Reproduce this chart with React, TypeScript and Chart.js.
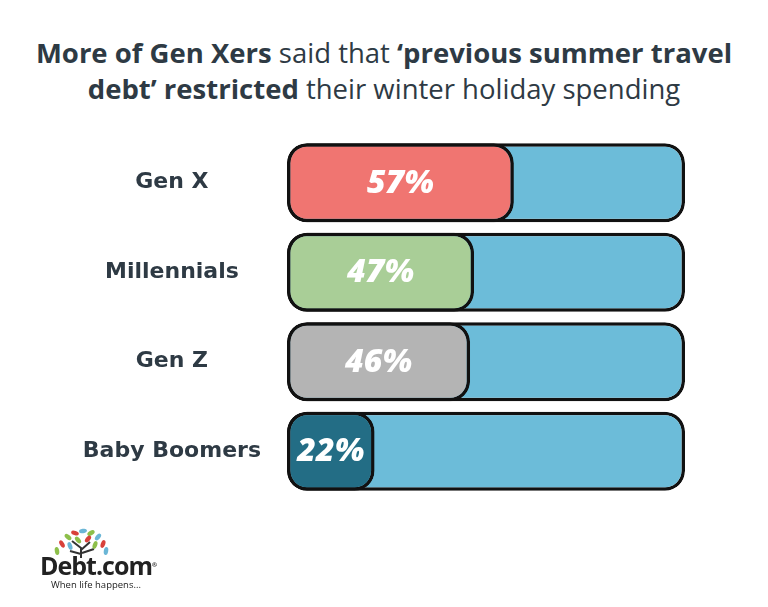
import React, { useEffect, useRef } from "react";
import { Chart, registerables } from "chart.js";

Chart.register(...registerables);

const categories = ["Gen X", "Millennials", "Gen Z", "Baby Boomers"];
const values = [57, 47, 46, 22];
const totals = [100, 100, 100, 100];
const valueLabels = ["57%", "47%", "46%", "22%"];
const barColors = ["#F07571", "#A9CE97", "#B4B4B4", "#236D85"];
const trackColor = "#6CBCD9";
const textColor = "#2E3A44";

const valueLabelPlugin = {
  id: "valueLabels",
  afterDatasetsDraw(chart: any) {
    const meta = chart.getDatasetMeta(0);
    const ctx = chart.ctx;
    ctx.save();
    ctx.fillStyle = "#FFFFFF";
    ctx.font = "italic 800 32px 'Open Sans'";
    ctx.textAlign = "center";
    ctx.textBaseline = "middle";
    meta.data.forEach((bar: any, i: number) => {
      const cx = (bar.x + bar.base) / 2;
      ctx.fillText(valueLabels[i], cx, bar.y + 1);
    });
    ctx.restore();
  },
};

function Logo() {
  const leaves = [
    { cx: 14, cy: 20, c: "#D8413A", r: -30 },
    { cx: 20, cy: 13, c: "#8DBF4A", r: -50 },
    { cx: 27, cy: 9, c: "#D8413A", r: -70 },
    { cx: 35, cy: 7, c: "#6BB6D6", r: 80 },
    { cx: 43, cy: 9, c: "#8DBF4A", r: 60 },
    { cx: 50, cy: 13, c: "#6BB6D6", r: 40 },
    { cx: 55, cy: 20, c: "#D8413A", r: 20 },
    { cx: 22, cy: 22, c: "#6BB6D6", r: -20 },
    { cx: 30, cy: 16, c: "#8DBF4A", r: -40 },
    { cx: 40, cy: 15, c: "#D8413A", r: 40 },
    { cx: 47, cy: 21, c: "#8DBF4A", r: 20 },
    { cx: 9, cy: 27, c: "#8DBF4A", r: -10 },
    { cx: 58, cy: 27, c: "#6BB6D6", r: 10 },
  ];
  return (
    <div style={{ position: "absolute", left: 40, top: 524, width: 140, height: 70 }}>
      <svg width="70" height="34" style={{ position: "absolute", left: 8, top: 0 }}>
        <path d="M33 34 L33 24 L24 17 M33 26 L42 18 M33 30 L22 27 M34 29 L46 25" stroke="#333" strokeWidth="2" fill="none" />
        {leaves.map((l, i) => (
          <ellipse key={i} cx={l.cx} cy={l.cy} rx="2.2" ry="4" fill={l.c} transform={`rotate(${l.r} ${l.cx} ${l.cy})`} />
        ))}
      </svg>
      <div style={{ position: "absolute", left: 0, top: 26, fontFamily: "'Open Sans'", fontWeight: 700, fontSize: 25, letterSpacing: -1, color: "#222", lineHeight: "30px" }}>
        Debt.com<span style={{ fontSize: 6, verticalAlign: "top", letterSpacing: 0 }}>®</span>
      </div>
      <div style={{ position: "absolute", left: 11, top: 54, fontFamily: "'Open Sans'", fontSize: 9.5, color: "#222", whiteSpace: "nowrap" }}>
        When life happens...
      </div>
    </div>
  );
}

export default function App() {
  const canvasRef = useRef<HTMLCanvasElement | null>(null);

  useEffect(() => {
    if (!canvasRef.current) return;
    const chart = new Chart(canvasRef.current, {
      type: "bar",
      data: {
        labels: categories,
        datasets: [
          {
            data: values,
            backgroundColor: barColors,
            borderColor: "#111111",
            borderWidth: 3.5,
            borderRadius: 20,
            borderSkipped: false,
            grouped: false,
            barPercentage: 0.883,
            categoryPercentage: 1,
          } as any,
          {
            data: totals,
            backgroundColor: trackColor,
            borderColor: "#111111",
            borderWidth: 3.5,
            borderRadius: 20,
            borderSkipped: false,
            grouped: false,
            barPercentage: 0.883,
            categoryPercentage: 1,
          } as any,
        ],
      },
      options: {
        indexAxis: "y",
        animation: false,
        responsive: false,
        maintainAspectRatio: false,
        layout: { padding: { top: 138, bottom: 111, left: 0, right: 83 } },
        plugins: {
          legend: { display: false },
          tooltip: { enabled: false },
          title: { display: false },
        },
        scales: {
          x: { min: 0, max: 100, display: false },
          y: {
            grid: { display: false, drawTicks: false },
            border: { display: false },
            ticks: {
              crossAlign: "center",
              padding: 26,
              color: textColor,
              font: { family: "'DejaVu Sans'", weight: "bold", size: 22 },
            },
            afterFit: (scale: any) => {
              scale.width = 287;
            },
          },
        },
      } as any,
      plugins: [valueLabelPlugin],
    });
    return () => chart.destroy();
  }, []);

  return (
    <div style={{ position: "fixed", left: 0, top: 0, width: 768, height: 607, background: "#FFFFFF", overflow: "hidden" }}>
      <div
        style={{
          position: "absolute",
          left: 0,
          top: 35,
          width: 768,
          textAlign: "center",
          fontFamily: "'Open Sans'",
          fontSize: 27.5,
          lineHeight: "36px",
          color: textColor,
        }}
      >
        <span style={{ fontWeight: 700 }}>More of Gen Xers</span> said that{" "}
        <span style={{ fontWeight: 700 }}>‘previous summer travel</span>
        <br />
        <span style={{ fontWeight: 700 }}>debt’ restricted</span> their winter holiday spending
      </div>
      <canvas ref={canvasRef} width={768} height={607} style={{ position: "absolute", left: 0, top: 0 }} />
      <Logo />
    </div>
  );
}
